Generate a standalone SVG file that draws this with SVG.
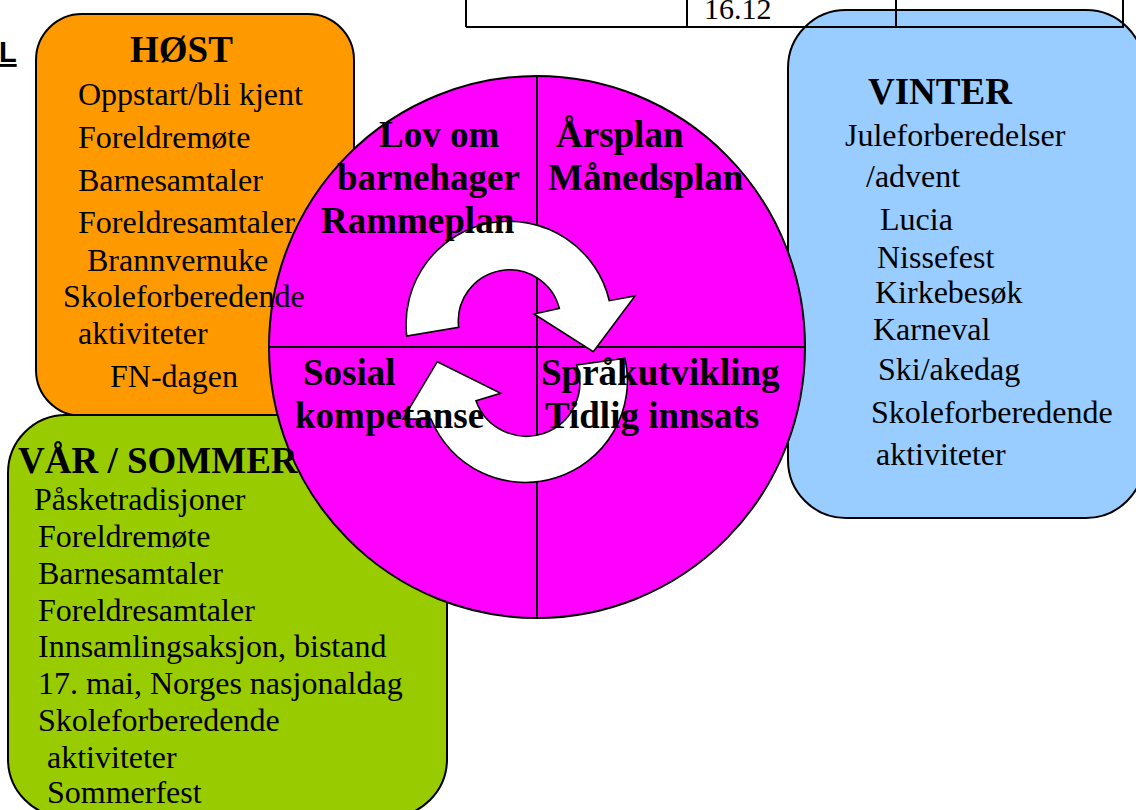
<svg xmlns="http://www.w3.org/2000/svg" width="1136" height="810" viewBox="0 0 1136 810">
<style>
.box{stroke:#000;stroke-width:2}
.t{font-family:"Liberation Serif","Times New Roman",serif;font-size:32px;fill:#000}
.b{font-family:"Liberation Serif","Times New Roman",serif;font-size:37px;font-weight:bold;fill:#000}
.ln{stroke:#000;stroke-width:2;fill:none}
.arrow{fill:#fff;stroke:#000;stroke-width:1.6;stroke-linejoin:miter}
</style>
<rect width="1136" height="810" fill="#fff"/>
<g id="host-box"><rect class="box" x="36" y="14" width="318" height="402" rx="46" ry="46" fill="#FF9900"/></g>
<g id="var-box"><rect class="box" x="8" y="415" width="439" height="402" rx="58" ry="58" fill="#99CC00"/></g>
<g id="vinter-box"><rect class="box" x="788" y="10" width="356" height="508" rx="58" ry="58" fill="#99CCFF"/></g>
<g id="table">
<line class="ln" x1="466" y1="27" x2="1124" y2="27"/>
<line class="ln" x1="466" y1="-2" x2="466" y2="27"/>
<line class="ln" x1="687" y1="-2" x2="687" y2="27"/>
<line class="ln" x1="896" y1="-2" x2="896" y2="27"/>
<line class="ln" x1="1123" y1="-2" x2="1123" y2="27"/>
<text class="t" x="704" y="19" style="font-size:30px">16.12</text>
</g>
<g id="wheel">
<ellipse cx="537" cy="347" rx="268" ry="271" fill="#FF00FF" stroke="#000" stroke-width="2"/>
<line class="ln" x1="537" y1="76" x2="537" y2="618"/>
<line class="ln" x1="269" y1="347" x2="805" y2="347"/>
</g>
<g id="connectors">
<path class="arrow" d="M406.7 336 A103 103 0 0 1 609.3 300.7 L635 296 L593.3 351.7 L534 314 L559.3 308.3 A51.3 51.3 0 0 0 458.7 327.3 Z"/>
<path class="arrow" d="M625 358.3 A102 102 0 0 1 431 419 L403 419 L437.3 361.7 L500.7 393.3 L476 400.7 A53.4 53.4 0 0 0 576.7 365 Z"/>
</g>
<g id="labels">
<text x="-1" y="62" style="font-family:'Liberation Sans',Arial,sans-serif;font-size:29px;font-weight:bold;text-decoration:underline">L</text>
<text class="b" x="130" y="62">HØST</text>
<text class="t" x="78" y="105">Oppstart/bli kjent</text>
<text class="t" x="78" y="148">Foreldremøte</text>
<text class="t" x="78" y="191">Barnesamtaler</text>
<text class="t" x="78" y="233">Foreldresamtaler</text>
<text class="t" x="87" y="271">Brannvernuke</text>
<text class="t" x="63" y="307">Skoleforberedende</text>
<text class="t" x="78" y="344">aktiviteter</text>
<text class="t" x="110" y="387">FN-dagen</text>

<text class="b" x="379" y="147">Lov om</text>
<text class="b" x="337" y="190">barnehager</text>
<text class="b" x="321" y="233">Rammeplan</text>
<text class="b" x="556" y="147">Årsplan</text>
<text class="b" x="548" y="190">Månedsplan</text>
<text class="b" x="303" y="385">Sosial</text>
<text class="b" x="295" y="428">kompetanse</text>
<text class="b" x="541" y="385">Språkutvikling</text>
<text class="b" x="545" y="428">Tidlig innsats</text>

<text class="b" x="868" y="104">VINTER</text>
<text class="t" x="845" y="146">Juleforberedelser</text>
<text class="t" x="866" y="187">/advent</text>
<text class="t" x="880" y="230">Lucia</text>
<text class="t" x="877" y="268">Nissefest</text>
<text class="t" x="875" y="303">Kirkebesøk</text>
<text class="t" x="873" y="340">Karneval</text>
<text class="t" x="878" y="380">Ski/akedag</text>
<text class="t" x="871" y="423">Skoleforberedende</text>
<text class="t" x="876" y="465">aktiviteter</text>

<text class="b" x="18" y="473">VÅR / SOMMER</text>
<text class="t" x="34" y="510">Påsketradisjoner</text>
<text class="t" x="38" y="547">Foreldremøte</text>
<text class="t" x="38" y="584">Barnesamtaler</text>
<text class="t" x="38" y="621">Foreldresamtaler</text>
<text class="t" x="38" y="657">Innsamlingsaksjon, bistand</text>
<text class="t" x="38" y="694">17. mai, Norges nasjonaldag</text>
<text class="t" x="38" y="731">Skoleforberedende</text>
<text class="t" x="47" y="768">aktiviteter</text>
<text class="t" x="47" y="803">Sommerfest</text>
</g>
</svg>
